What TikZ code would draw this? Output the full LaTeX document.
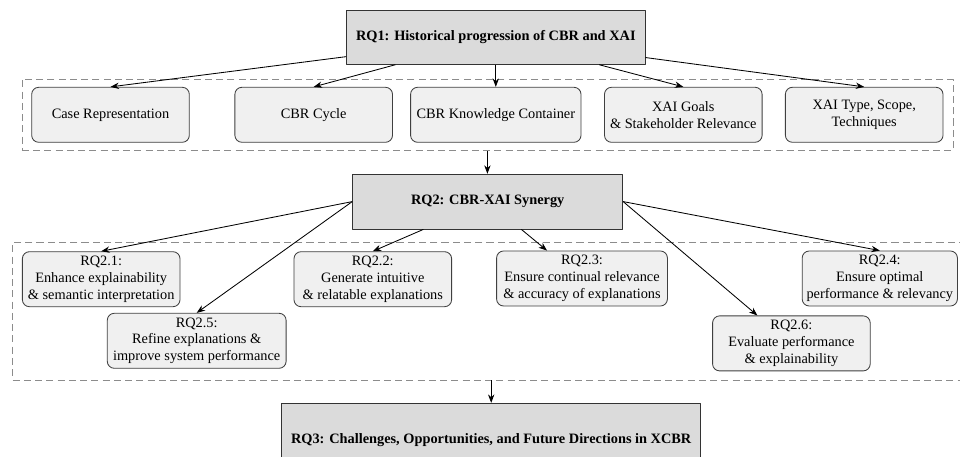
\documentclass[tikz,border=0pt]{standalone}
\usepackage{fontspec}
\setmainfont{Liberation Serif}
\usetikzlibrary{arrows.meta,calc}
\tikzset{
  rqbox/.style={draw=black!80, fill=black!14, line width=0.6pt, inner sep=2pt,
    align=center, font=\fontsize{10.2}{12}\selectfont\bfseries},
  subbox/.style={draw=black!75, fill=black!6, rounded corners=5pt, line width=0.6pt,
    minimum width=3.94cm, minimum height=1.375cm, inner sep=2pt, align=center,
    font=\fontsize{10.2}{12}\selectfont},
  groupbox/.style={draw=black!45, dash pattern=on 5pt off 3pt, line width=0.5pt},
}
\begin{document}
\begin{tikzpicture}[x=0.025cm, y=-0.025cm, >={Stealth[length=6pt,width=4.5pt]}, line join=round]
	\clip (0,0) rectangle (960,457);
	% dashed groups
	\node[groupbox, minimum width=23.27cm, minimum height=1.79cm] (grp1) at (487.4,114.9) {};
	\node[groupbox, minimum width=23.83cm, minimum height=3.44cm] (grp2) at (489.4,311.2) {};
	% research questions
	\node[rqbox, minimum width=7.46cm, minimum height=1.34cm] (rq1) at (495.8,37.5) {RQ1: Historical progression of CBR and XAI};
	\node[rqbox, minimum width=6.75cm, minimum height=1.37cm] (rq2) at (487.7,201.6) {RQ2: CBR-XAI Synergy};
	\node[rqbox, minimum width=10.48cm, minimum height=1.85cm] (rq3) at (491.2,440.3) {RQ3: Challenges, Opportunities, and Future Directions in XCBR};
	% RQ1 topics
	\node[subbox] (case) at (110.5,114.8) {Case Representation};
	\node[subbox] (cycle) at (313.7,114.8) {CBR Cycle};
	\node[subbox, minimum width=4.26cm] (know) at (495.8,114.8) {CBR Knowledge Container};
	\node[subbox] (goals) at (683.3,114.8) {XAI Goals\\\& Stakeholder Relevance};
	\node[subbox] (type) at (864.2,114.8) {XAI Type, Scope,\\Techniques};
	% RQ2 sub-questions
	\node[subbox] (rq21) at (101.2,279.2) {RQ2.1:\\Enhance explainability\\\& semantic interpretation};
	\node[subbox] (rq22) at (372.8,279.2) {RQ2.2:\\Generate intuitive\\\& relatable explanations};
	\node[subbox, minimum width=4.27cm] (rq23) at (582,278.5) {RQ2.3:\\Ensure continual relevance\\\& accuracy of explanations};
	\node[subbox, minimum width=3.88cm] (rq24) at (879.8,278.5) {RQ2.4:\\Ensure optimal\\performance \& relevancy};
	\node[subbox, minimum width=4.47cm] (rq25) at (196.7,340.8) {RQ2.5:\\Refine explanations \&\\improve system performance};
	\node[subbox] (rq26) at (791.4,343.4) {RQ2.6:\\Evaluate performance\\\& explainability};
	% connectors
	\begin{scope}[line width=0.6pt]
		\foreach \n in {case,cycle,know,goals,type}
			\draw[->] (rq1) -- (\n.north);
		\draw[->] (grp1.south) -- (grp1.south |- rq2.north);
		\draw[->] (rq2.west) -- (rq21.north);
		\draw[->] (rq2.west) -- (rq25.north);
		\draw[->] (rq2) -- (rq22.north);
		\draw[->] (rq2) -- ($(rq23.north)+(-35,0)$);
		\draw[->] (rq2.east) -- ($(rq26.north)+(-34,0)$);
		\draw[->] (rq2.east) -- (rq24.north);
		\draw[->] (grp2.south -| rq3) -- (rq3);
	\end{scope}
\end{tikzpicture}
\end{document}
